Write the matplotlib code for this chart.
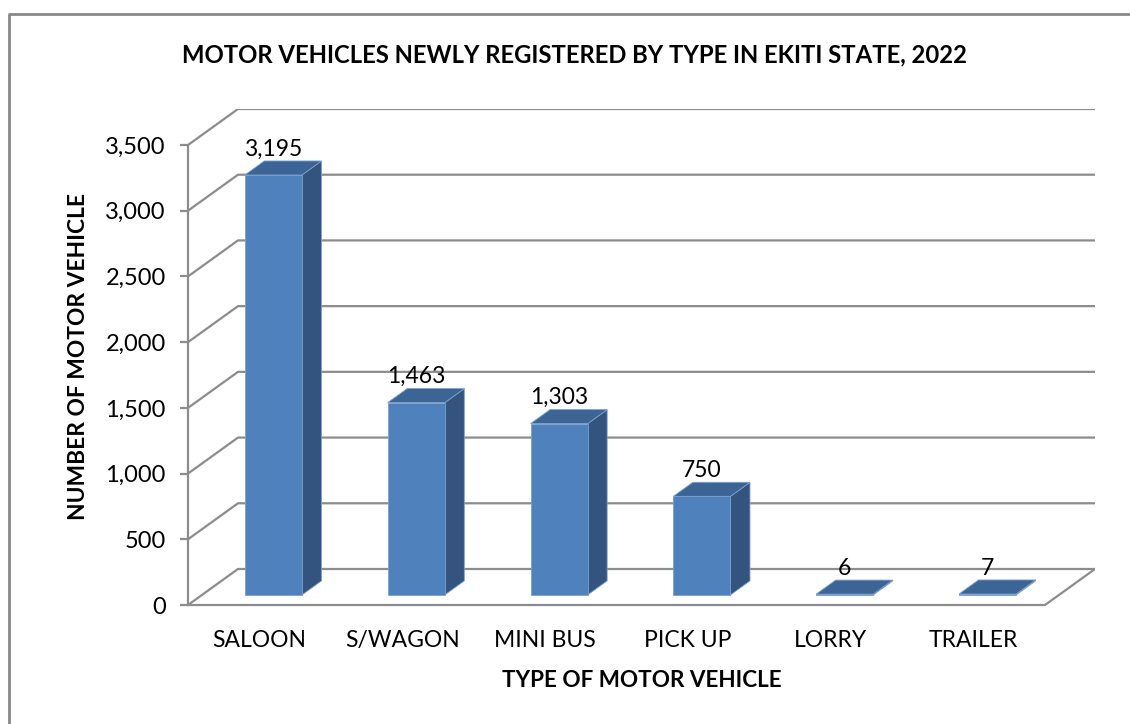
"""
Motor vehicles newly registered by type, Ekiti State 2022 - pseudo-3D column chart.
"""

import matplotlib
matplotlib.use("Agg")
import matplotlib.pyplot as plt
from matplotlib.lines import Line2D
from matplotlib.patches import Polygon

plt.rcParams["font.family"] = ["Lato", "DejaVu Sans"]

categories = ["SALOON", "S/WAGON", "MINI BUS", "PICK UP", "LORRY", "TRAILER"]
counts = [3195, 1463, 1303, 750, 6, 7]
y_ticks = [0, 500, 1000, 1500, 2000, 2500, 3000, 3500]

# ── oblique projection: depth d in [0, 1] shifts right and up ────────────
DX, DY = 0.35, 274.0          # x in category units, y in value units
Y_TOP = 3500


def proj(x, v, d):
    return (x + d * DX, v + d * DY)


W, H = 1130, 724
fig = plt.figure(figsize=(W / 100, H / 100), dpi=100)
ax = fig.add_axes([188 / W, (H - 605) / H, 907 / W, 496 / H])
ax.set_xlim(0, len(categories) + DX)
ax.set_ylim(0, Y_TOP + DY)

grid_c = "#8c8c8c"
for v in y_ticks:
    xs, ys = zip(proj(0, v, 0), proj(0, v, 1), proj(len(categories), v, 1))
    ax.plot(xs, ys, color=grid_c, lw=1.6, zorder=1, solid_capstyle="butt")
# floor right edge
xs, ys = zip(proj(len(categories), 0, 0), proj(len(categories), 0, 1))
ax.plot(xs, ys, color=grid_c, lw=1.6, zorder=1)

# ── bars ────────────────────────────────────────────────────────────────
front_c, side_c, top_c = "#4f81bd", "#32547e", "#3c6494"
edge_c = "#7ba0cf"
d0, d1 = 0.28, 0.67
bw = 0.4
for i, v in enumerate(counts):
    x0, x1 = i + 0.5 - bw / 2, i + 0.5 + bw / 2
    front = [proj(x0, 0, d0), proj(x1, 0, d0), proj(x1, v, d0), proj(x0, v, d0)]
    side = [proj(x1, 0, d0), proj(x1, 0, d1), proj(x1, v, d1), proj(x1, v, d0)]
    top = [proj(x0, v, d0), proj(x1, v, d0), proj(x1, v, d1), proj(x0, v, d1)]
    for pts, c in ((side, side_c), (front, front_c), (top, top_c)):
        ax.add_patch(Polygon(pts, closed=True, facecolor=c, edgecolor=edge_c,
                             lw=0.6, zorder=3))
    lx, ly = proj(i + 0.5, v, d1)
    ax.annotate(f"{v:,}", (proj(i + 0.5, v, d0)[0], ly), xytext=(0, 1),
                textcoords="offset points", ha="center", va="bottom",
                fontsize=16.5, zorder=4)

# ── axes decoration ─────────────────────────────────────────────────────
for s in ("top", "right"):
    ax.spines[s].set_visible(False)
ax.spines["left"].set_bounds(0, Y_TOP)
ax.spines["bottom"].set_bounds(0, len(categories))
for s in ("left", "bottom"):
    ax.spines[s].set_color(grid_c)
    ax.spines[s].set_linewidth(1.6)
ax.set_yticks(y_ticks)
ax.set_yticklabels([f"{t:,}" for t in y_ticks], fontsize=17)
ax.tick_params(axis="y", length=6, width=1.6, color=grid_c, pad=10)
ax.set_xticks([i + 0.5 for i in range(len(categories))])
ax.set_xticklabels(categories, fontsize=16.5)
ax.tick_params(axis="x", length=0, pad=18)

ax.set_xlabel("TYPE OF MOTOR VEHICLE", fontsize=16.2, fontweight="bold", labelpad=14)
ax.set_ylabel("NUMBER OF MOTOR VEHICLE", fontsize=16.4, fontweight="bold", labelpad=12)

fig.text(575 / W, 1 - 55 / H,
         "MOTOR VEHICLES NEWLY REGISTERED BY TYPE IN EKITI STATE, 2022",
         ha="center", va="center", fontsize=17.2, fontweight="bold")

# chart frame (only left and top edges fall inside the image)
fig.add_artist(Line2D([9 / W, 9 / W, 1], [0, 1 - 14 / H, 1 - 14 / H],
                      transform=fig.transFigure, color="#878787", lw=2))

fig.savefig("out.png", dpi=100)
plt.close(fig)
